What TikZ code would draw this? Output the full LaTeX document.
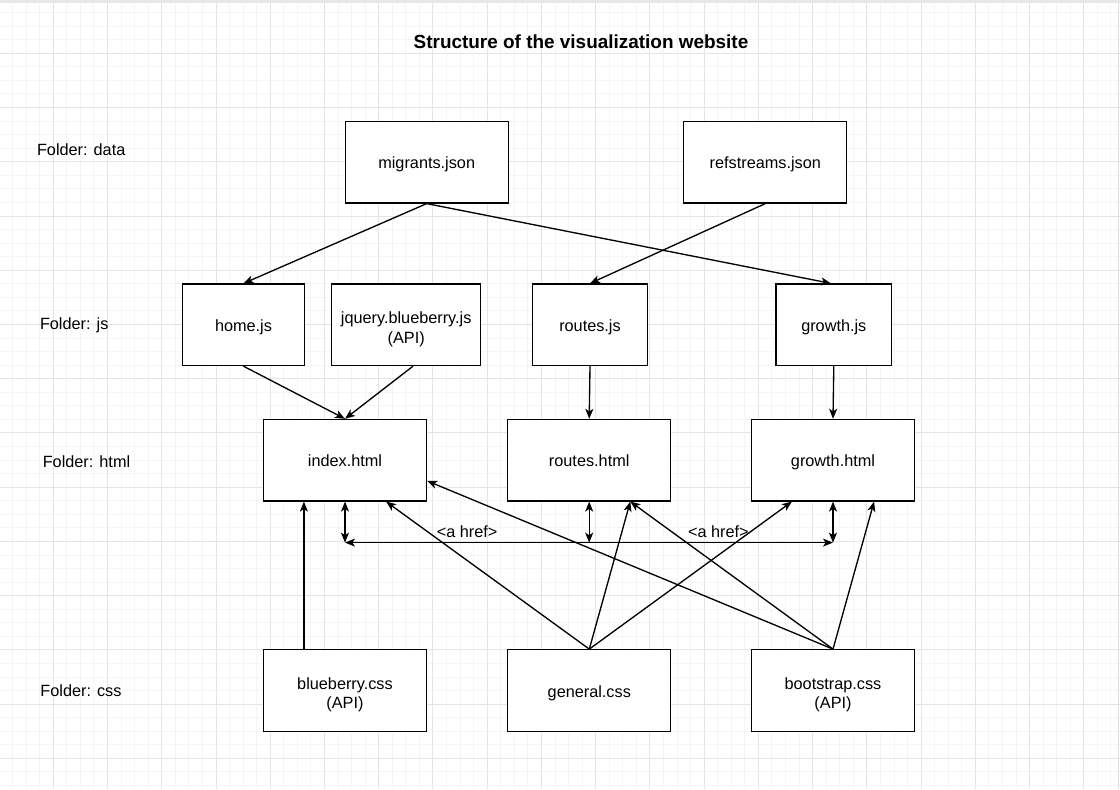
\documentclass[tikz,border=0pt]{standalone}
\usepackage{fontspec}
\setmainfont{Liberation Sans}
\usetikzlibrary{arrows.meta,calc}
\newcommand{\apistrut}{\rule{0pt}{15.5pt}}

\begin{document}
\begin{tikzpicture}[x=0.75pt,y=-0.75pt,every node/.style={font=\fontsize{12.2}{14.6}\selectfont, align=center},gridminor/.style={draw=gray!8, line width=0.75pt},gridmajor/.style={draw=gray!20, line width=0.75pt},box/.style={draw, fill=white, line width=1pt, inner sep=0pt, minimum width=122.25pt, minimum height=61.1pt},file/.style={box, text height=11pt, text depth=1.2pt},apifile/.style={box},jsfile/.style={file, minimum width=91.3pt},jsnarrow/.style={file, minimum width=86.6pt},jswide/.style={apifile, minimum width=111.75pt},link/.style={line width=1pt, -{Stealth[length=7.5pt,width=6pt,inset=2pt]}},dlink/.style={line width=1pt, {Stealth[length=7.5pt,width=6pt,inset=2pt]}-{Stealth[length=7.5pt,width=6pt,inset=2pt]}}]
\useasboundingbox (0,0) rectangle (1120,789);
\fill[white] (0,0) rectangle (1120,789);
\foreach \i in {0,...,83} \draw[gridminor] ({-0.94+13.56*\i},0) -- ({-0.94+13.56*\i},789);
\foreach \i in {0,...,58} \draw[gridminor] (0,{-0.94+13.56*\i}) -- (1120,{-0.94+13.56*\i});
\foreach \i in {0,...,20} \draw[gridmajor] ({-0.94+54.24*\i},0) -- ({-0.94+54.24*\i},789);
\foreach \i in {0,...,14} \draw[gridmajor] (0,{-0.94+54.24*\i}) -- (1120,{-0.94+54.24*\i});
\fill[gray!18] (0,0) rectangle (1120,3.3);
\draw[gray!25, line width=0.75pt] (1118.3,3.3) -- (1118.3,789);
\node(title) at (581,42) {\bfseries\fontsize{14.2}{17}\selectfont Structure of the visualization website};
\node(fdata) at (81.2,149.5) {Folder: data};
\node(fjs) at (74.2,325.5) {Folder: js};
\node(fhtml) at (86.5,461.5) {Folder: html};
\node(fcss) at (81,690.5) {Folder: css};
\node[file](migrants) at (426.7,162.2) {migrants.json};
\node[file](refstreams) at (765.3,162.2) {refstreams.json};
\node[jsfile](home) at (243.5,324.8) {home.js};
\node[jswide](jquery) at (406.2,324.8) {\apistrut jquery.blueberry.js\\(API)};
\node[jsnarrow](routesjs) at (590,324.8) {routes.js};
\node[jsnarrow](growthjs) at (833.8,324.8) {growth.js};
\node[file](index) at (345,460.2) {index.html};
\node[file](routeshtml) at (589.2,460.2) {routes.html};
\node[file](growthhtml) at (833,460.2) {growth.html};
\node[apifile](blueberry) at (345,690.5) {\apistrut blueberry.css\\(API)};
\node[file](general) at (589.3,690.5) {general.css};
\node[apifile](bootstrap) at (833,690.5) {\apistrut bootstrap.css\\(API)};
\coordinate(hindex) at ($(index.south)+(0,41)$);
\coordinate(hroutes) at ($(routeshtml.south)+(0,41)$);
\coordinate(hgrowth) at ($(growthhtml.south)+(0,41)$);
\draw[link] (migrants.south) -- (home.north);
\draw[link] (migrants.south) -- ([xshift=-2.1]growthjs.north);
\draw[link] (refstreams.south) -- (routesjs.north);
\draw[link] (home.south) -- (index.north);
\draw[link] ($(jquery.south west)!.545!(jquery.south east)$) -- (index.north);
\draw[link] (routesjs.south) -- (routeshtml.north);
\draw[link] (growthjs.south) -- (growthhtml.north);
\draw[link] ($(blueberry.north west)!.25!(blueberry.north east)$) -- ($(index.south west)!.25!(index.south east)$);
\draw[dlink] (index.south) -- (hindex);
\draw[dlink] (routeshtml.south) -- (hroutes);
\draw[dlink] (growthhtml.south) -- (hgrowth);
\draw[link] (hroutes) -- node[above]{<a href>} (hindex);
\draw[link] (hroutes) -- node[above, pos=.53]{<a href>} (hgrowth);
\draw[link] (general.north) -- ($(index.south west)!.75!(index.south east)$);
\draw[link] (general.north) -- ($(routeshtml.south west)!.75!(routeshtml.south east)$);
\draw[link] (general.north) -- ($(growthhtml.south west)!.25!(growthhtml.south east)$);
\draw[link] (bootstrap.north) -- ($(index.north east)!.75!(index.south east)$);
\draw[link] (bootstrap.north) -- ($(routeshtml.south west)!.75!(routeshtml.south east)$);
\draw[link] (bootstrap.north) -- ($(growthhtml.south west)!.75!(growthhtml.south east)$);
\end{tikzpicture}
\end{document}
